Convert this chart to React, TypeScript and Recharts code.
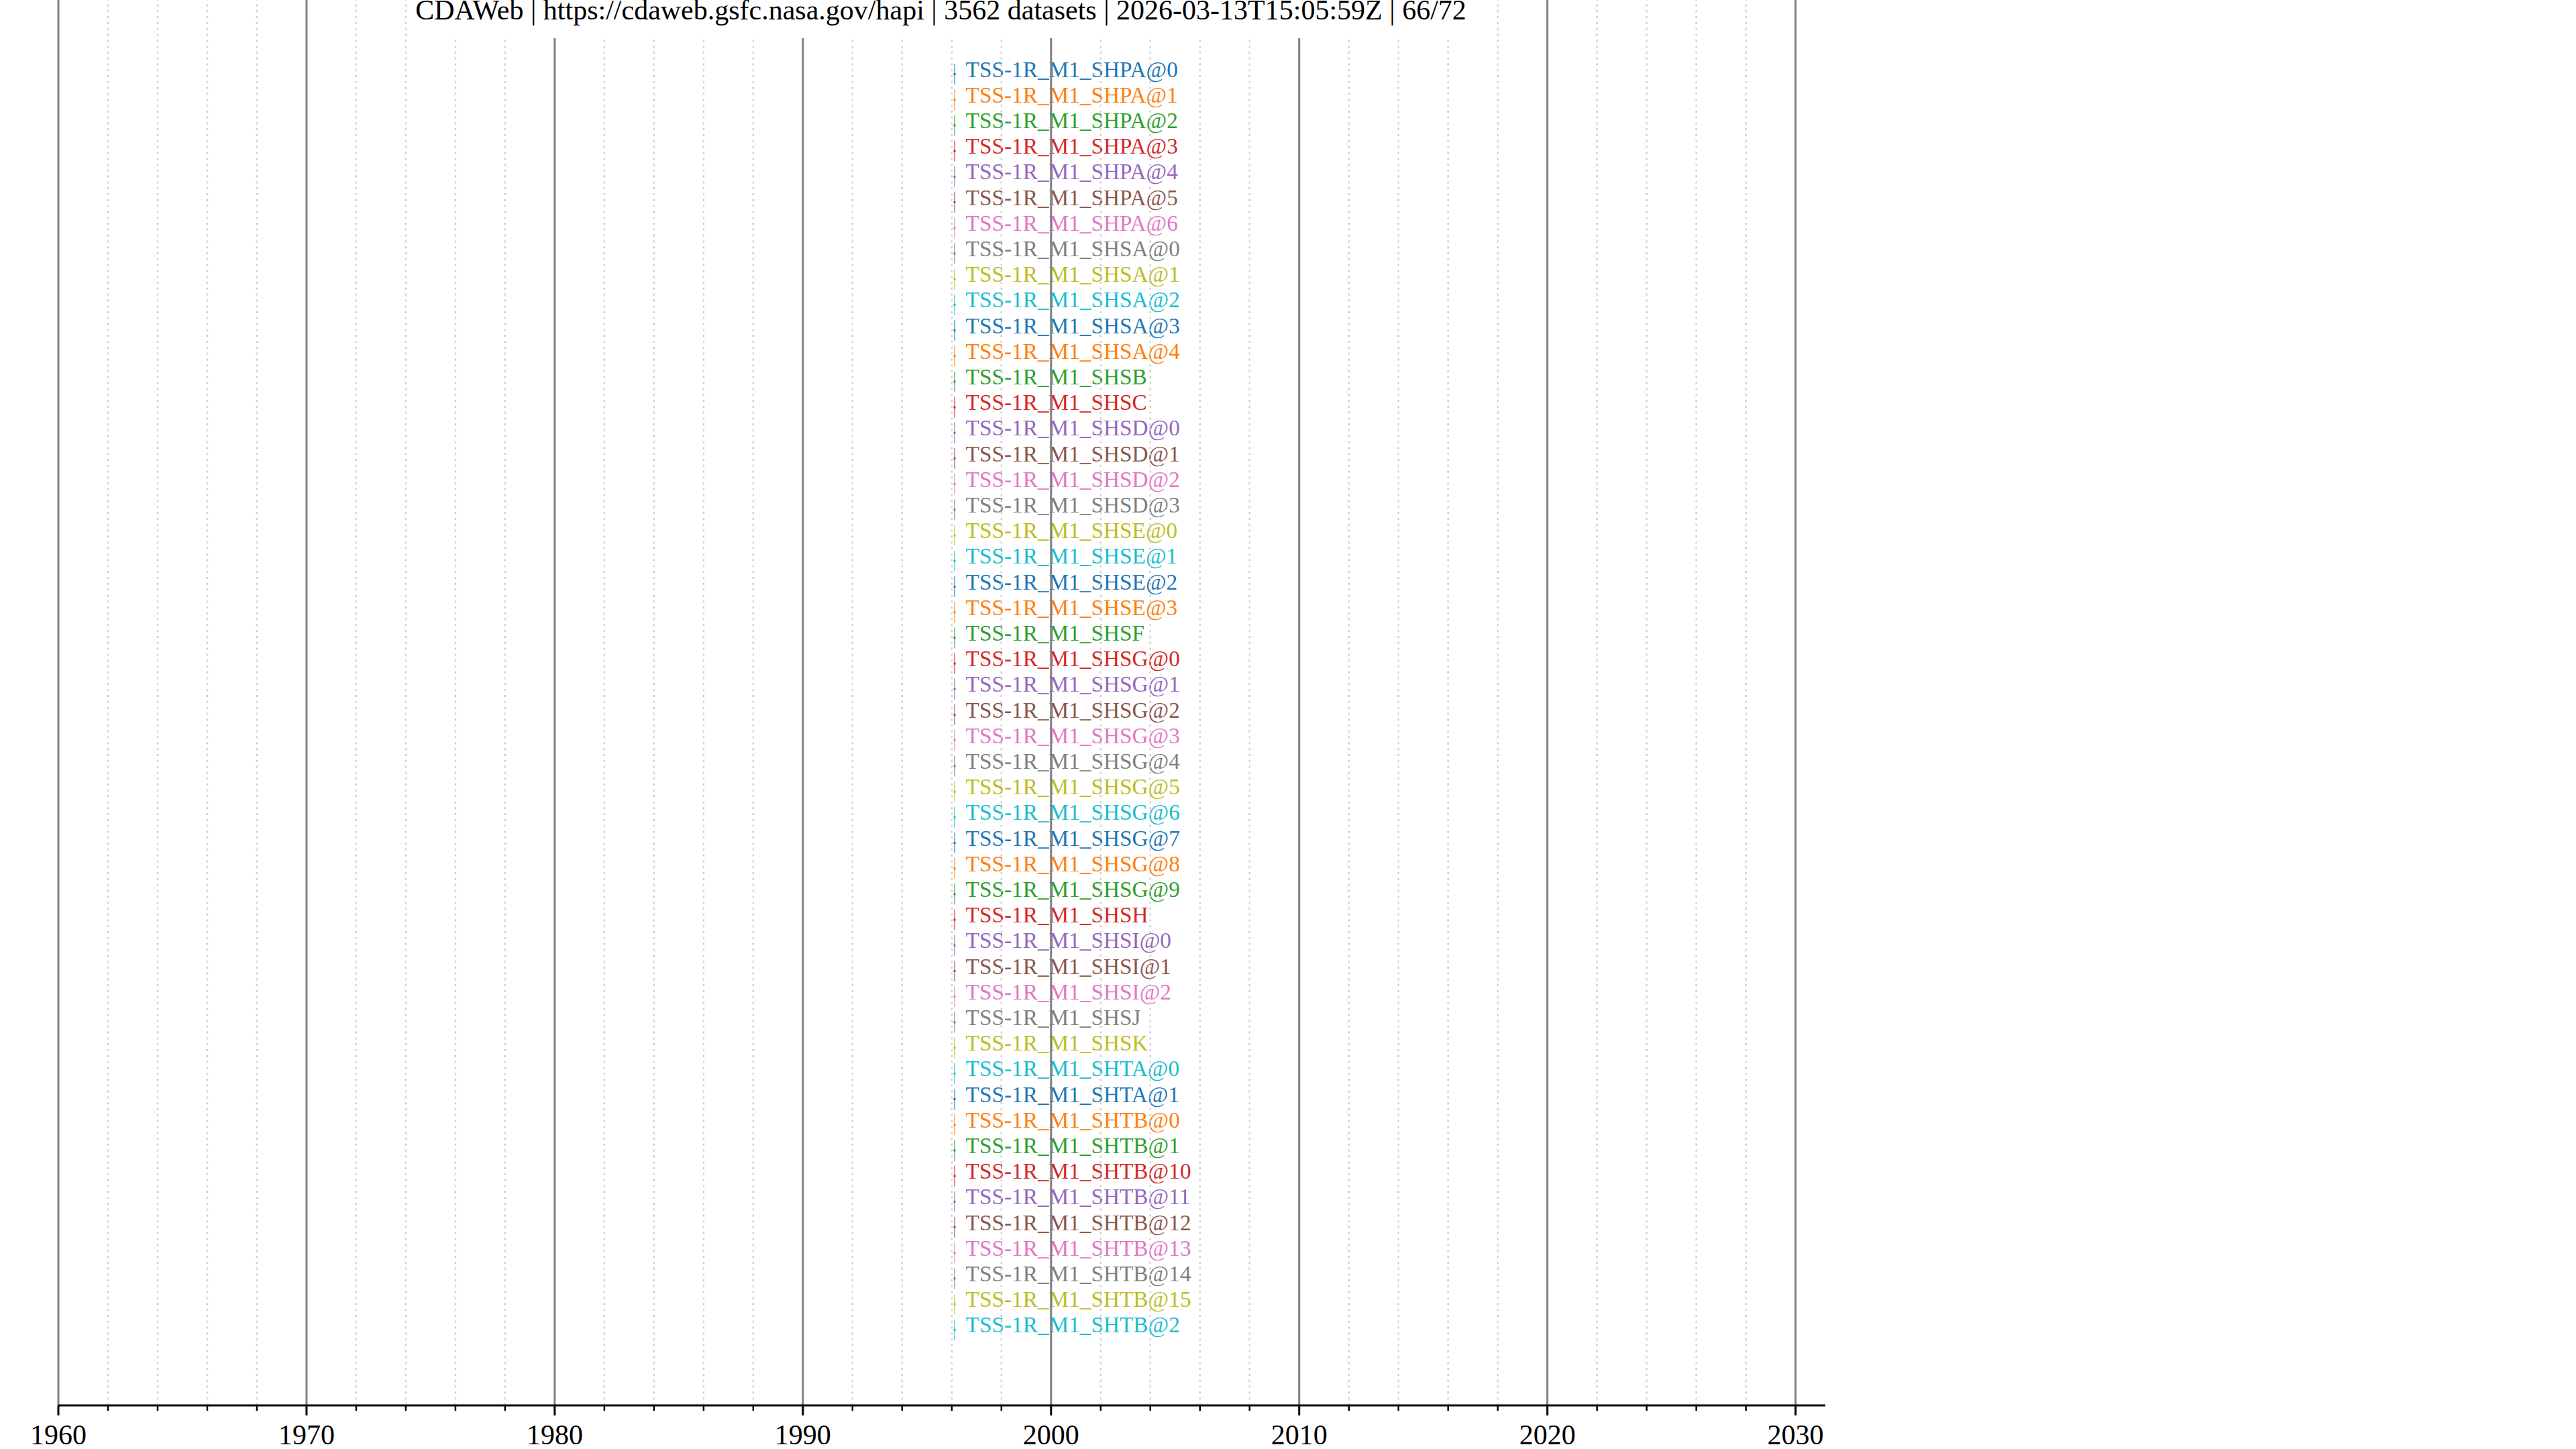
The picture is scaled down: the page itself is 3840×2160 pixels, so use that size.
import { Bar, BarChart, ReferenceLine, XAxis, YAxis } from "recharts"

// dataset ids, top to bottom
const datasetNames = [
  "TSS-1R_M1_SHPA@0", "TSS-1R_M1_SHPA@1", "TSS-1R_M1_SHPA@2", "TSS-1R_M1_SHPA@3", "TSS-1R_M1_SHPA@4",
  "TSS-1R_M1_SHPA@5", "TSS-1R_M1_SHPA@6", "TSS-1R_M1_SHSA@0", "TSS-1R_M1_SHSA@1", "TSS-1R_M1_SHSA@2",
  "TSS-1R_M1_SHSA@3", "TSS-1R_M1_SHSA@4", "TSS-1R_M1_SHSB", "TSS-1R_M1_SHSC", "TSS-1R_M1_SHSD@0",
  "TSS-1R_M1_SHSD@1", "TSS-1R_M1_SHSD@2", "TSS-1R_M1_SHSD@3", "TSS-1R_M1_SHSE@0", "TSS-1R_M1_SHSE@1",
  "TSS-1R_M1_SHSE@2", "TSS-1R_M1_SHSE@3", "TSS-1R_M1_SHSF", "TSS-1R_M1_SHSG@0", "TSS-1R_M1_SHSG@1",
  "TSS-1R_M1_SHSG@2", "TSS-1R_M1_SHSG@3", "TSS-1R_M1_SHSG@4", "TSS-1R_M1_SHSG@5", "TSS-1R_M1_SHSG@6",
  "TSS-1R_M1_SHSG@7", "TSS-1R_M1_SHSG@8", "TSS-1R_M1_SHSG@9", "TSS-1R_M1_SHSH", "TSS-1R_M1_SHSI@0",
  "TSS-1R_M1_SHSI@1", "TSS-1R_M1_SHSI@2", "TSS-1R_M1_SHSJ", "TSS-1R_M1_SHSK", "TSS-1R_M1_SHTA@0",
  "TSS-1R_M1_SHTA@1", "TSS-1R_M1_SHTB@0", "TSS-1R_M1_SHTB@1", "TSS-1R_M1_SHTB@10", "TSS-1R_M1_SHTB@11",
  "TSS-1R_M1_SHTB@12", "TSS-1R_M1_SHTB@13", "TSS-1R_M1_SHTB@14", "TSS-1R_M1_SHTB@15", "TSS-1R_M1_SHTB@2",
]

// coverage start / stop, decimal years
const startYears = [
  1996.1, 1996.1, 1996.1, 1996.1, 1996.1, 1996.1, 1996.1, 1996.1, 1996.1, 1996.1,
  1996.1, 1996.1, 1996.1, 1996.1, 1996.1, 1996.1, 1996.1, 1996.1, 1996.1, 1996.1,
  1996.1, 1996.1, 1996.1, 1996.1, 1996.1, 1996.1, 1996.1, 1996.1, 1996.1, 1996.1,
  1996.1, 1996.1, 1996.1, 1996.1, 1996.1, 1996.1, 1996.1, 1996.1, 1996.1, 1996.1,
  1996.1, 1996.1, 1996.1, 1996.1, 1996.1, 1996.1, 1996.1, 1996.1, 1996.1, 1996.1,
]
const endYears = [
  1996.13, 1996.13, 1996.13, 1996.13, 1996.13, 1996.13, 1996.13, 1996.13, 1996.13, 1996.13,
  1996.13, 1996.13, 1996.13, 1996.13, 1996.13, 1996.13, 1996.13, 1996.13, 1996.13, 1996.13,
  1996.13, 1996.13, 1996.13, 1996.13, 1996.13, 1996.13, 1996.13, 1996.13, 1996.13, 1996.13,
  1996.13, 1996.13, 1996.13, 1996.13, 1996.13, 1996.13, 1996.13, 1996.13, 1996.13, 1996.13,
  1996.13, 1996.13, 1996.13, 1996.13, 1996.13, 1996.13, 1996.13, 1996.13, 1996.13, 1996.13,
]

const tickYears = [
  1960, 1962, 1964, 1966, 1968, 1970, 1972, 1974, 1976, 1978, 1980, 1982, 1984, 1986, 1988,
  1990, 1992, 1994, 1996, 1998, 2000, 2002, 2004, 2006, 2008, 2010, 2012, 2014, 2016, 2018,
  2020, 2022, 2024, 2026, 2028, 2030,
]
const majorYears = [1960, 1970, 1980, 1990, 2000, 2010, 2020, 2030]
const minorYears = [
  1962, 1964, 1966, 1968, 1972, 1974, 1976, 1978, 1982, 1984, 1986, 1988, 1992, 1994, 1996, 1998,
  2002, 2004, 2006, 2008, 2012, 2014, 2016, 2018, 2022, 2024, 2026, 2028,
]

const palette = [
  "#1f77b4", "#ff7f0e", "#2ca02c", "#d62728", "#9467bd",
  "#8c564b", "#e377c2", "#7f7f7f", "#bcbd22", "#17becf",
]

const title = "CDAWeb | https://cdaweb.gsfc.nasa.gov/hapi | 3562 datasets | 2026-03-13T15:05:59Z | 66/72"

const rows = datasetNames.map((name, i) => ({ name, span: [startYears[i], endYears[i]] }))

const FONT = "'Liberation Serif', 'Times New Roman', serif"

function SpanMark(props: any) {
  const { x, y, width, height, payload } = props
  const idx = datasetNames.indexOf(payload.name)
  const color = palette[idx % palette.length]
  const w = Math.max(width || 0, 1)
  const cy = y + height / 2
  return (
    <g>
      <rect x={x} y={y} width={w} height={height} fill={color} />
      <rect x={x - 1} y={cy - 1.5} width={3} height={3} fill={color} />
      <text x={x + w + 16} y={cy + 4} fill={color} fontSize={33.3} fontFamily={FONT}>
        {payload.name}
      </text>
    </g>
  )
}

function YearTick(props: any) {
  const { x, y, payload } = props
  const major = payload.value % 10 === 0
  return (
    <g>
      <line x1={x} x2={x} y1={y} y2={y + (major ? 15 : 8)} stroke="#000" strokeWidth={major ? 3 : 2.5} />
      {major && (
        <text x={x} y={y + 58} textAnchor="middle" fontSize={42} fontFamily={FONT} fill="#000">
          {payload.value}
        </text>
      )}
    </g>
  )
}

export default function App() {
  return (
    <div style={{ position: "absolute", left: 0, top: 0, width: 3840, height: 2160, background: "#fff" }}>
      <BarChart
        width={3840}
        height={2160}
        data={rows}
        layout="vertical"
        margin={{ top: 0, right: 1119, bottom: 0, left: 87 }}
        barSize={31}
      >
        {minorYears.map((yr) => (
          <ReferenceLine key={"m" + yr} x={yr} stroke="#d0d0d0" strokeWidth={2.5} strokeDasharray="3 5.8" />
        ))}
        {majorYears.map((yr) => (
          <ReferenceLine key={"M" + yr} x={yr} stroke="#808080" strokeWidth={3} />
        ))}
        <XAxis
          type="number"
          domain={[1960, 2031.2]}
          allowDataOverflow
          ticks={tickYears}
          interval={0}
          tickSize={0}
          tickMargin={0}
          tick={<YearTick />}
          axisLine={{ stroke: "#000", strokeWidth: 3 }}
          height={65}
        />
        <YAxis type="category" dataKey="name" hide padding={{ top: 91, bottom: 94 }} />
        <Bar dataKey="span" shape={<SpanMark />} isAnimationActive={false} />
      </BarChart>
      <div
        style={{
          position: "absolute",
          left: 615,
          top: 0,
          width: 1575,
          height: 57,
          background: "#fff",
          overflow: "hidden",
        }}
      >
        <div
          style={{
            position: "absolute",
            top: -6,
            width: "100%",
            textAlign: "center",
            fontFamily: FONT,
            fontSize: 42,
            lineHeight: "42px",
            whiteSpace: "nowrap",
            color: "#000",
          }}
        >
          {title}
        </div>
      </div>
    </div>
  )
}
